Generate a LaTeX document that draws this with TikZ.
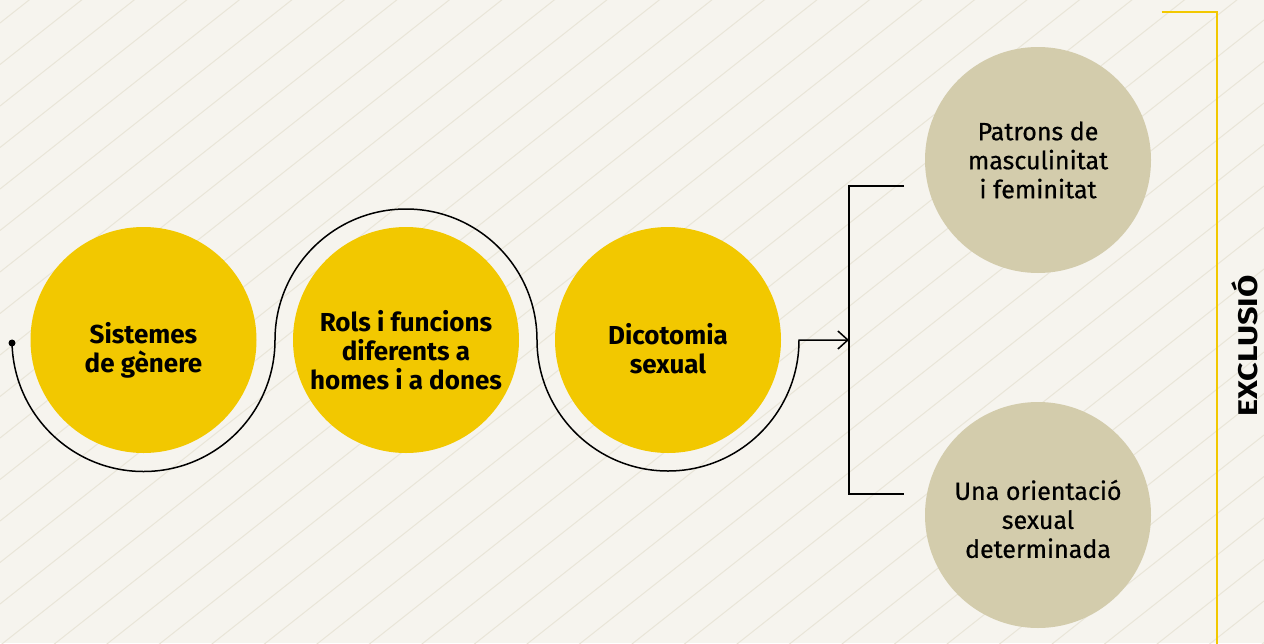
\documentclass[tikz,border=0pt]{standalone}
\usepackage{fontspec}
\setmainfont{Fira Sans}
\newfontfamily\medfont[FakeBold=0.6]{Fira Sans}
\usetikzlibrary{arrows.meta}
\definecolor{bg}{HTML}{F6F4EE}
\definecolor{hatch}{HTML}{E9E5D8}
\definecolor{gold}{HTML}{F2C800}
\definecolor{sand}{HTML}{D3CCAC}
\begin{document}
\begin{tikzpicture}[x=1pt,y=-1pt,
  stepcircle/.style={circle, fill=gold, minimum size=226pt, inner sep=0pt},
  sandcircle/.style={circle, fill=sand, minimum size=226pt, inner sep=0pt},
  steptext/.style={align=center, inner sep=0pt, font=\bfseries\fontsize{26}{29}\selectfont},
  sandtext/.style={align=center, inner sep=0pt, font=\medfont\fontsize{25}{29}\selectfont},
  wire/.style={line width=1.5pt, black},
  bracketline/.style={line width=1.8pt, black},
  goldline/.style={line width=2pt, gold},
]
\fill[bg] (0,0) rectangle (1264,643);
\useasboundingbox (0,0) rectangle (1264,643);
\begin{scope}
\clip (0,0) rectangle (1264,643);
\foreach \k in {0,...,40} {
  \draw[hatch, line width=1pt] (0,{23+41.5*\k}) -- (1264,{23+41.5*\k-999});
}
\end{scope}

\node[stepcircle] (c1) at (143.5,340) {};
\node[stepcircle] (c2) at (406,340) {};
\node[stepcircle] (c3) at (668,340) {};
\node[sandcircle] (p1) at (1038,160) {};
\node[sandcircle] (p2) at (1038,515) {};

\path (c1.center) ++(0,10) node[steptext] (t1) {Sistemes\\de gènere};
\path (c2.center) ++(0,10) node[steptext] (t2) {Rols i funcions\\diferents a\\homes i a dones};
\path (c3.center) ++(0,9) node[steptext] (t3) {Dicotomia\\sexual};
\path (p1.center) ++(0,0) node[sandtext] (q1) {Patrons de\\masculinitat\\i feminitat};
\path (p2.center) ++(0,4) node[sandtext] (q2) {Una orientació\\sexual\\determinada};

\path (c1.center) ++(-131.5,0) coordinate (start);
\coordinate (brtop) at (849,186);
\coordinate (brbot) at (849,494);
\coordinate (tip) at (849,340);

\draw[wire, -{Straight Barb[length=10pt,width=18pt]}] (start)
  arc[start angle=180, end angle=0, radius=131.5]
  arc[start angle=180, end angle=360, radius=131]
  arc[start angle=180, end angle=0, radius=131]
  -- (tip);
\fill (start) ++(0,3) circle[radius=3.5];

\draw[bracketline] (brtop) ++(55,0) -- (brtop) -- (brbot) -- ++(55,0);

\coordinate (gtop) at (1216.7,12);
\draw[goldline] (gtop) ++(-55,0) -- (gtop) -- ++(0,640);

\node[rotate=90, anchor=base, inner sep=0pt, font=\bfseries\fontsize{27}{30}\selectfont] (ex) at (1257,346) {\scalebox{1.2}[1]{EXCLUSIÓ}};
\end{tikzpicture}
\end{document}
